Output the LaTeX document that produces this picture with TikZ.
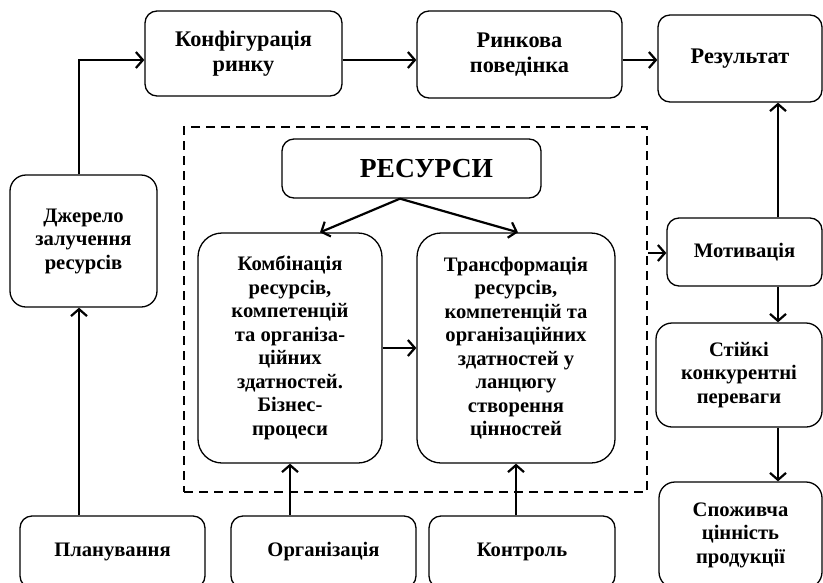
\documentclass[tikz,border=0pt]{standalone}
\usepackage{fontspec}
\setmainfont{Liberation Serif}
\usetikzlibrary{arrows.meta,calc}
\begin{document}
\begin{tikzpicture}[x=1pt,y=-1pt,
  box/.style={draw,line width=1.3pt,rounded corners=12pt,align=center,
    font=\bfseries\fontsize{20.6}{23.5}\selectfont,inner sep=0pt},
  topbox/.style={box,font=\bfseries\fontsize{22.3}{25}\selectfont},
  bigbox/.style={box,rounded corners=24pt},
  arr/.style={line width=2.2pt,-{Straight Barb[length=7pt,width=16pt]}},
  dashbox/.style={draw,line width=2pt,dash pattern=on 9pt off 6pt,inner sep=0pt},
]
\useasboundingbox (0,0) rectangle (823,582);
\node[dashbox, minimum width=463, minimum height=365] (dbox) at (415.5,309.5) {};

\node[topbox, minimum width=197, minimum height=85] (konf) at (243.5,53.5) {Конфігурація\\ринку};
\node[topbox, minimum width=205, minimum height=87] (rynk) at (519.5,54.5) {Ринкова\\поведінка};
\node[topbox, minimum width=164, minimum height=87] (rez) at (740,58.5) {Результат};
\node[box, rounded corners=16pt, minimum width=147, minimum height=132] (dzh) at (83.5,241) {Джерело\\залучення\\ресурсів};
\node[box, minimum width=259, minimum height=59, font=\bfseries\fontsize{27.5}{30}\selectfont] (res) at (411.5,168.5) {\hspace*{30pt}РЕСУРСИ};
\node[bigbox, minimum width=184, minimum height=230] (komb) at (290,348) {Комбінація\\ресурсів,\\компетенцій\\та організа-\\ційних\\здатностей.\\Бізнес-\\процеси};
\node[bigbox, minimum width=198, minimum height=230] (trans) at (516,348) {Трансформація\\ресурсів,\\компетенцій та\\організаційних\\здатностей у\\ланцюгу\\створення\\цінностей};
\node[box, minimum width=155, minimum height=68] (motiv) at (744.5,252) {Мотивація};
\node[box, rounded corners=16pt, minimum width=166, minimum height=104] (stiyk) at (739,375) {Стійкі\\конкурентні\\переваги};
\node[box, rounded corners=16pt, minimum width=163, minimum height=106] (spoz) at (740.5,535) {Споживча\\цінність\\продукції};
\node[box, minimum width=185, minimum height=72] (plan) at (112.5,552) {Планування};
\node[box, minimum width=185, minimum height=72] (org) at (323.5,552) {Організація};
\node[box, minimum width=186, minimum height=72] (kontr) at (522,552) {Контроль};

\coordinate (top) at (0,60);
\coordinate (vx) at (778,0);
\coordinate (lx) at (79,0);
\coordinate (my) at (0,253);

\draw[arr] (dzh.north -| lx) |- (konf.west |- top);
\draw[arr] (konf.east |- top) -- (rynk.west |- top);
\draw[arr] (rynk.east |- top) -- (rez.west |- top);
\draw[arr] (motiv.north -| vx) -- (rez.south -| vx);
\draw[arr] (motiv.south -| vx) -- (stiyk.north -| vx);
\draw[arr] (stiyk.south -| vx) -- (spoz.north -| vx);
\draw[arr] (dbox.east |- my) -- (motiv.west |- my);
\draw[arr] ([xshift=-11.5pt]res.south) -- (komb.north -| 320,0);
\draw[arr] ([xshift=-11.5pt]res.south) -- (trans.north -| 518,0);
\draw[arr] (komb.east) -- (trans.west);
\draw[arr] (plan.north -| lx) -- (dzh.south -| lx);
\draw[arr] (org.north -| komb.south) -- (komb.south);
\draw[arr] (kontr.north -| trans.south) -- (trans.south);
\end{tikzpicture}
\end{document}
